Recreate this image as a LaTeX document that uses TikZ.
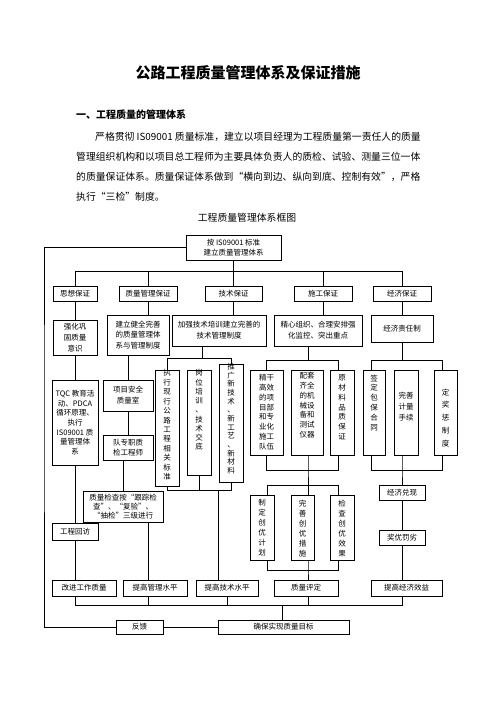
\documentclass[tikz,border=0pt]{standalone}
\usepackage{fontspec}
\setmainfont{Noto Sans CJK SC}
\tikzset{
 bx/.style={draw,line width=1pt,inner sep=0pt,align=center},
 vt/.style={inner sep=0pt,align=center},
 ln/.style={line width=1pt},
 para/.style={anchor=west,inner sep=0pt,font=\fontsize{11.8}{14}\selectfont},
}
\newcommand\bx[7][12.6]{\node[bx,font=\fontsize{9}{#1}\selectfont,minimum width={(#5-#3)*1.2pt},minimum height={(#6-#4)*1.2pt}] (#2) at ({(#3+#5)/2},{(#4+#6)/2}) {#7};}
\newcommand\vb[8]{\node[bx,minimum width={(#4-#2)*1.2pt},minimum height={(#5-#3)*1.2pt}] (#1) at ({(#2+#4)/2},{(#3+#5)/2}) {};
\node[vt,anchor=north,font=\fontsize{9}{#7}\selectfont] (#1t) at ({(#2+#4)/2},#6) {#8};}
\begin{document}
\begin{tikzpicture}[x=1.2pt,y=-1.2pt]
\useasboundingbox (0,0) rectangle (496,702);
\fill[white] (0,0) rectangle (496,702);
% heading text
\node[inner sep=0pt,font=\fontsize{18}{20}\selectfont\bfseries] (title) at (248,73) {公路工程质量管理体系及保证措施};
\node[anchor=west,inner sep=0pt,font=\fontsize{12}{14}\selectfont\bfseries] (h1) at (76,115) {一、工程质量的管理体系};
\node[para] (p1) at (95,137) {严格贯彻 IS09001 质量标准，建立以项目经理为工程质量第一责任人的质量};
\node[para] (p2) at (76,157) {管理组织机构和以项目总工程师为主要具体负责人的质检、试验、测量三位一体};
\node[para] (p3) at (76,177) {的质量保证体系。质量保证体系做到“横向到边、纵向到底、控制有效”，严格};
\node[para] (p4) at (76,197) {执行“三检”制度。};
\node[inner sep=0pt,font=\fontsize{11.8}{14}\selectfont] (cap) at (247,218) {工程质量管理体系框图};
% boxes
\bx[11.5]{top}{186}{235}{281}{260}{按 IS09001 标准\\建立质量管理体系}
\bx{sx}{53}{286}{97}{301}{思想保证}
\bx{zg}{119}{286}{177}{301}{质量管理保证}
\bx{js}{205}{286}{262}{301}{技术保证}
\bx{sg}{294}{286}{352}{301}{施工保证}
\bx{jj}{373}{286}{431}{301}{经济保证}
\bx[13.5]{qh}{53}{320}{97}{355}{强化巩\\固质量\\意识}
\bx[12.5]{jl}{107}{315}{169}{355}{建立健全完善\\的质量管理体\\系与管理制度}
\bx[13]{jq}{172}{315}{266}{346}{加强技术培训建立完善的\\技术管理制度}
\bx[13]{jx}{274}{315}{362}{346}{精心组织、合理安排强\\化监控、突出重点}
\bx{jz}{371}{315}{433}{342}{经济责任制}
\bx[11.6]{tqc}{52}{380}{98}{465}{TQC 教育活\\动、PDCA\\循环原理、\\执行\\IS09001 质\\量管理体\\系}
\bx[13]{xm}{103}{380}{153}{411}{项目安全\\质量室}
\bx[12]{dz}{103}{435}{153}{460}{队专职质\\检工程师}
\bx[11]{zj}{83}{491}{163}{522}{质量检查按“跟踪检\\查”、“复验”、\\“抽检”三级进行}
\bx{gh}{52}{523}{98}{540}{工程回访}
\vb{zx}{155}{370}{179}{486}{369.5}{11.3}{执\\行\\现\\行\\公\\路\\工\\程\\相\\关\\标\\准}
\vb{gw}{187}{370}{211}{475}{369.5}{11.1}{岗\\位\\培\\训\\、\\技\\术\\交\\底}
\vb{tg}{219}{364}{243}{482}{363}{10.4}{推\\广\\新\\技\\术\\、\\新\\工\\艺\\、\\新\\材\\料}
\vb{jg}{250}{370}{283}{455}{374.5}{11.7}{精干\\高效\\的项\\目部\\和专\\业化\\施工\\队伍}
\vb{pt}{291}{370}{323}{455}{372.5}{11.7}{配套\\齐全\\的机\\械设\\备和\\测试\\仪器}
\vb{yc}{330}{370}{354}{455}{374.5}{11.8}{原\\材\\料\\品\\质\\保\\证}
\vb{qd}{363}{370}{385}{455}{374.5}{11.8}{签\\定\\包\\保\\合\\同}
\vb{wj}{394}{370}{418}{455}{392}{13}{完善\\计量\\手续}
\vb{dj}{434}{370}{457}{455}{388.5}{15.3}{定\\奖\\惩\\制\\度}
\vb{zd}{250}{495}{274}{560}{499.5}{12}{制\\定\\创\\优\\计\\划}
\vb{ws}{291}{495}{314}{560}{499.5}{12}{完\\善\\创\\优\\措\\施}
\vb{jc}{330}{495}{354}{560}{499.5}{12}{检\\查\\创\\优\\效\\果}
\bx{jd}{379}{485}{425}{500}{经济兑现}
\bx{jy}{379}{530}{425}{545}{奖优罚劣}
\bx{b1}{52}{580}{116}{596}{改进工作质量}
\bx{b2}{123}{580}{187}{596}{提高管理水平}
\bx{b3}{196}{580}{258}{596}{提高技术水平}
\bx{b4}{274}{580}{338}{596}{质量评定}
\bx{b5}{371}{580}{442}{596}{提高经济效益}
\bx{qb}{218}{620}{349}{634}{确保实现质量目标}
\bx{fk}{116}{620}{163}{634}{反馈}
% coordinates
\coordinate (busL) at (75,271); \coordinate (busR) at (402,271);
\coordinate (zjd) at (148,522);
\coordinate (tA) at (202,358); \coordinate (tB) at (218,490);
\coordinate (cA) at (308,360); \coordinate (cAr) at (338,360);
\coordinate (cB) at (308,470); \coordinate (cBr) at (338,470);
\coordinate (cC) at (308,485); \coordinate (cCl) at (267,485); \coordinate (cCr) at (338,485);
\coordinate (cD) at (308,570); \coordinate (cDl) at (267,570); \coordinate (cDr) at (338,570);
\coordinate (eA) at (402,360); \coordinate (eAl) at (371,360); \coordinate (eAr) at (442,360);
\coordinate (eB) at (402,470); \coordinate (eBl) at (371,470); \coordinate (eBr) at (442,470);
\coordinate (bL) at (75,605); \coordinate (bR) at (402,605); \coordinate (bM) at (282,605);
\coordinate (oL) at (44,400);
% connectors
\draw[ln] (top.south) -- (js.north);
\draw[ln] (busL) -- (busR);
\draw[ln] (busL) -- (sx.north);
\draw[ln] (zg.north |- busL) -- (zg.north);
\draw[ln] (sg.north |- busL) -- (sg.north);
\draw[ln] (busR) -- (jj.north);
\draw[ln] (sx.south) -- (qh.north);
\draw[ln] (zg.south) -- (zg.south |- jl.north);
\draw[ln] (js.south) -- (js.south |- jq.north);
\draw[ln] (sg.south) -- (sg.south |- jx.north);
\draw[ln] (jj.south) -- (jz.north);
\draw[ln] (qh.south) -- (tqc.north);
\draw[ln] (xm.north |- jl.south) -- (xm.north);
\draw[ln] (xm.south) -- (dz.north);
\draw[ln] (zj.north |- dz.south) -- (zj.north);
\draw[ln] (tqc.south) -- (gh.north);
\draw[ln] (gh.south) -- (gh.south |- b1.north);
\draw[ln] (zjd) -- (zjd |- b2.north);
% technical branch
\draw[ln] (tA |- jq.south) -- (tA);
\draw[ln] (zx.north) -- (zx.north |- tA) -- (tg.north |- tA) -- (tg.north);
\draw[ln] (zx.south) -- (zx.south |- tB) -- (tg.south |- tB) -- (tg.south);
\draw[ln] (gw.south) -- (gw.south |- tB);
\draw[ln] (tB) -- (tB |- b3.north);
% construction branch
\draw[ln] (cA |- jx.south) -- (cA);
\draw[ln] (jg.north) -- (jg.north |- cA) -- (cAr) -- (cAr |- yc.north);
\draw[ln] (jg.south) -- (jg.south |- cB) -- (cBr) -- (cBr |- yc.south);
\draw[ln] (cB |- pt.south) -- (cB) -- (cC);
\draw[ln] (cCl |- zd.north) -- (cCl) -- (cCr) -- (cCr |- jc.north);
\draw[ln] (cC) -- (cC |- ws.north);
\draw[ln] (cDl |- zd.south) -- (cDl) -- (cDr) -- (cDr |- jc.south);
\draw[ln] (cC |- ws.south) -- (cD) -- (cD |- b4.north);
% economic branch
\draw[ln] (jz.south) -- (eA);
\draw[ln] (eAl |- qd.north) -- (eAl) -- (eAr) -- (eAr |- dj.north);
\draw[ln] (eBl |- qd.south) -- (eBl) -- (eBr) -- (eBr |- dj.south);
\draw[ln] (eB |- wj.south) -- (eB) -- (jd.north);
\draw[ln] (jd.south) -- (jy.north);
\draw[ln] (jy.south) -- (jy.south |- b5.north);
% bottom
\draw[ln] (bL |- b1.south) -- (bL) -- (bR) -- (bR |- b5.south);
\draw[ln] (zjd |- b2.south) -- (zjd |- bL);
\draw[ln] (b3.south) -- (b3.south |- bL);
\draw[ln] (cD |- b4.south) -- (cD |- bL);
\draw[ln] (bM) -- (bM |- qb.north);
\draw[ln] (qb.west) -- (fk.east);
\draw[ln] (fk.west) -| (oL) |- (top.west);
\end{tikzpicture}
\end{document}
